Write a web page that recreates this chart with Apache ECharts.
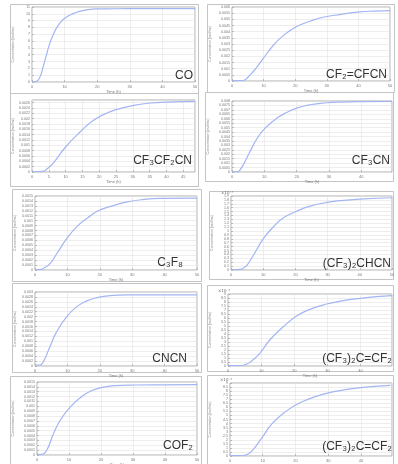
<!DOCTYPE html>
<html>
<head>
<meta charset="utf-8">
<script src="https://cdn.jsdelivr.net/npm/echarts@6/dist/echarts.min.js"></script>
<style>
html,body{margin:0;padding:0;background:#fff;}
#chart{width:398px;height:464px;}
</style>
</head>
<body>
<div id="chart"></div>
<script>
// ---- Data ----
const names = ['CO','CF₂=CFCN','CF₃CF₂CN','CF₃CN','C₃F₈','(CF₃)₂CHCN','CNCN','(CF₃)₂C=CF₂','COF₂','(CF₃)₂C=CF₂'];

const timeCO = [0,1.2,2.5,3.4,4.4,5.4,6.5,7.5,9,10.5,12,13.6,15,16.7,18,19.8,25,35,50];
const concCO = [0,0.05,0.8,2.2,3.9,5.6,6.9,7.9,8.9,9.5,9.9,10.2,10.4,10.58,10.66,10.72,10.74,10.75,10.75];

const timeCF2CFCN = [0,3.5,5,6.7,9.9,13.1,16.3,20.6,24.9,29.2,34.5,39.8,45.2,50];
const concCF2CFCN = [0.05,0.08,0.6,1.5,3.66,5.8,7.4,8.87,9.73,10.38,10.8,11.18,11.34,11.4];

const timeCF3CF2CN = [0,3.2,4.5,6.2,10,14.3,18.3,22.3,26.2,30.3,35.3,40.3,48.5];
const concCF3CF2CN = [0.05,0.1,0.6,1.56,4.69,7.5,9.69,11.06,11.88,12.5,12.94,13.1,13.25];

const timeCF3CN = [0,1.9,2.6,3.4,5.5,8.1,10.7,13.8,16.9,20,24.1,29.3,33.5,40,49.5];
const concCF3CN = [0.05,0.1,0.6,1.5,4.5,7.95,10.2,12.1,13.4,14.4,15.15,15.6,15.75,15.85,15.9];

const timeC3F8 = [0,1.6,2.6,4.7,6.8,9.9,13,16.2,19.2,23.4,28.5,33.7,38.8,50];
const concC3F8 = [0.1,0.1,0.34,1.36,3.4,6.46,8.84,10.54,11.9,12.9,13.8,14.3,14.5,14.56];

const timeCHCN = [0,2.9,4,5,7,10.1,13.2,16.3,20.4,24.6,29.8,35,40.1,50];
const concCHCN = [0.1,0.15,0.6,1.28,3.85,8.1,11.1,13.4,15.1,16.4,17.35,17.9,18.2,18.55];

const timeCNCN = [0,1.5,2.6,4.6,6.7,9.8,12.9,16,19.1,23.2,28.4,35,50];
const concCNCN = [0.2,0.2,0.88,3.9,6.96,10,12.03,13.2,13.85,14.26,14.4,14.4,14.4];

const timeCCF2a = [0,4,5.2,6.6,9.6,12.6,16.7,20.7,24.7,29.8,34.8,39.9,44.9,49.5];
const concCCF2a = [0.1,0.12,0.35,0.9,3.17,6.5,9.83,12.5,14.17,15.5,16.33,16.9,17.33,17.6];

const timeCOF2 = [0,1.6,3.1,5.2,7.3,10.5,13.7,16.8,20,24.2,30.5,40,50];
const concCOF2 = [0.1,0.12,1.03,4.45,7.2,9.93,11.85,13.15,13.84,14.25,14.38,14.42,14.45];

const timeCCF2b = [0,4,5.5,7,10,13,17.1,21.2,26.3,31.3,36.4,41.4,49];
const concCCF2b = [0.1,0.12,0.5,1.49,4.79,8.1,11,13.06,14.7,15.8,16.5,17,17.4];

// tick labels (y axes)
const ytCO = ['0','1','2','3','4','5','6','7','8','9','10','11'];
const ytCF2CFCN = ['0','0.0005','0.001','0.0015','0.002','0.0025','0.003','0.0035','0.004','0.0045','0.005','0.0055','0.006'];
const ytCF3CF2CN = ['0','0.0002','0.0004','0.0006','0.0008','0.001','0.0012','0.0014','0.0016','0.0018','0.002','0.0022','0.0024','0.0026'];
const ytCF3CN = ['0','0.0005','0.001','0.0015','0.002','0.0025','0.003','0.0035','0.004','0.0045','0.005','0.0055','0.006','0.0065','0.007','0.0075','0.008'];
const ytC3F8 = ['0','0.0001','0.0002','0.0003','0.0004','0.0005','0.0006','0.0007','0.0008','0.0009','0.001','0.0011','0.0012','0.0013','0.0014','0.0015'];
const ytCHCN = ['0','0.1','0.2','0.3','0.4','0.5','0.6','0.7','0.8','0.9','1','1.1','1.2','1.3','1.4','1.5','1.6','1.7','1.8','1.9'];
const ytCNCN = ['0','0.0002','0.0004','0.0006','0.0008','0.001','0.0012','0.0014','0.0016','0.0018','0.002','0.0022','0.0024','0.0026','0.0028','0.003'];
const ytCCF2 = ['0','0.5','1','1.5','2','2.5','3','3.5','4','4.5','5','5.5','6','6.5','7','7.5','8','8.5','9'];
const ytCOF2 = ['0','0.0001','0.0002','0.0003','0.0004','0.0005','0.0006','0.0007','0.0008','0.0009','0.001','0.0011','0.0012','0.0013','0.0014','0.0015'];

const times = [timeCO,timeCF2CFCN,timeCF3CF2CN,timeCF3CN,timeC3F8,timeCHCN,timeCNCN,timeCCF2a,timeCOF2,timeCCF2b];
const concs = [concCO,concCF2CFCN,concCF3CF2CN,concCF3CN,concC3F8,concCHCN,concCNCN,concCCF2a,concCOF2,concCCF2b];
const yTicks = [ytCO,ytCF2CFCN,ytCF3CF2CN,ytCF3CN,ytC3F8,ytCHCN,ytCNCN,ytCCF2,ytCOF2,ytCCF2];
const xMax = [50,50,48.5,49.5,50,50,50,49.5,50,49.5];
const xInterval = [10,10,5,10,10,10,10,10,10,10];
const yMax = [11,12,13.5,16,15,19,15,18,15,18];
const sci = [false,false,false,false,false,true,false,true,false,true];

// ---- Layout ----
const plots = [
  [32,7,195,82],[232,7,390,81],
  [32,100,195,172],[232,101,392,172],
  [35,196,197,270],[231,196,392,270],
  [35,292,197,366],[228,294,392,366],
  [37,382,197,455],[230,383,392,456]
];
const frames = [
  [10,4,188,89],[207,4,187,88],
  [10,93,188,93],[205,92,188,89],
  [12,189,189,92],[209,191,184,88],
  [12,283,189,89],[207,285,186,86],
  [10,376,191,90],[207,375,186,91]
];
const labelPos = [
  [193,76],[387,75],[192,161],[390,161],[183,263],[391,264],[187,359],[392,359],[193,446],[392,447]
];

const chart = echarts.init(document.getElementById('chart'), null, {renderer:'canvas'});
const grid=[], xAxis=[], yAxis=[], series=[], graphic=[];
for (let i=0;i<10;i++){
  const p = plots[i];
  grid.push({left:p[0], top:p[1], width:p[2]-p[0], height:p[3]-p[1], show:true,
    borderColor:'#9a9a9a', borderWidth:0.8, backgroundColor:'#fff', containLabel:false, outerBoundsMode:'none'});
  xAxis.push({type:'value', gridIndex:i, min:0, max:xMax[i], interval:xInterval[i],
    name:'Time (h)', nameLocation:'middle', nameGap:8, nameTextStyle:{fontSize:4, color:'#777'},
    axisLine:{show:false}, axisTick:{inside:true, length:2, lineStyle:{color:'#999', width:0.6}},
    axisLabel:{fontSize:4, color:'#777', margin:3, showMaxLabel:xMax[i]%xInterval[i]===0},
    splitLine:{show:true, lineStyle:{color:'#e2e2e2', width:0.6}}});
  const labs = yTicks[i];
  yAxis.push({type:'value', gridIndex:i, min:0, max:yMax[i], interval:1,
    name:'Concentration (mol/m³)', nameLocation:'middle', nameGap:p[0]-frames[i][0]-5,
    nameTextStyle:{fontSize:3.5, color:'#888'},
    axisLine:{show:false}, axisTick:{inside:true, length:2, lineStyle:{color:'#999', width:0.6}},
    axisLabel:{fontSize:3.6, color:'#777', margin:2, showMaxLabel: yMax[i]%1===0,
      formatter:(v)=>{const k=Math.round(v); return labs[k]!==undefined?labs[k]:'';}},
    splitLine:{show:true, lineStyle:{color:'#e2e2e2', width:0.6}}});
  series.push({type:'line', xAxisIndex:i, yAxisIndex:i, showSymbol:false, smooth:0.5,
    data: times[i].map((t,j)=>[t, concs[i][j]]),
    lineStyle:{color:'#a3b5f3', width:1.2}, silent:true, animation:false});
  const f = frames[i];
  graphic.push({type:'rect', shape:{x:f[0]+0.5, y:f[1]+0.5, width:f[2], height:f[3]},
    style:{fill:'none', stroke:'#c4c4c4', lineWidth:1}, z:-1, silent:true});
  graphic.push({type:'text', style:{text:names[i], x:labelPos[i][0], y:labelPos[i][1],
    align:'right', verticalAlign:'middle', fontSize:12, fontFamily:'"Liberation Sans", Arial, sans-serif', fill:'#333'}, z:10});
  if (sci[i]) {
    graphic.push({type:'text', style:{text:'×10⁻³', x:p[0]-10, y:p[1]-3, fontSize:4, fill:'#666',
      align:'left', verticalAlign:'middle', fontFamily:'"DejaVu Sans", sans-serif'}, z:10});
  }
}
chart.setOption({animation:false, backgroundColor:'#fff', grid, xAxis, yAxis, series, graphic});
</script>
</body>
</html>
